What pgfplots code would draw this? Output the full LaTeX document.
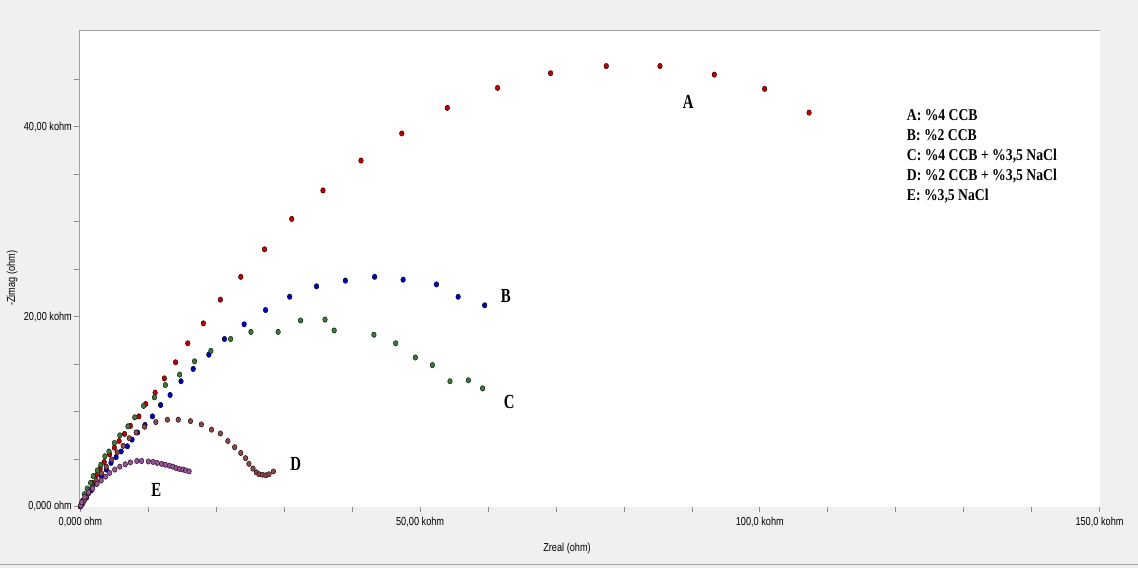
\documentclass[border=0pt]{standalone}
\usepackage{pgfplots}
\pgfplotsset{compat=1.18}
\usepackage{fontspec}
\setmainfont{Liberation Sans}
\newfontfamily\tickfont[FakeStretch=0.8]{Liberation Sans}
\newfontfamily\legfont[FakeStretch=0.83]{Liberation Serif}
\newfontfamily\labfont[FakeStretch=0.74]{Liberation Serif}
\definecolor{bgc}{HTML}{F0F0F0}
\definecolor{linec}{HTML}{A0A0A0}
\definecolor{tickc}{HTML}{8C8C8C}
\definecolor{cA}{HTML}{C00000}
\definecolor{cAd}{HTML}{3A0000}
\definecolor{cB}{HTML}{0000C0}
\definecolor{cBd}{HTML}{000030}
\definecolor{cC}{HTML}{3C7A3C}
\definecolor{cCd}{HTML}{102010}
\definecolor{cD}{HTML}{8C4848}
\definecolor{cDd}{HTML}{2A1010}
\definecolor{cE}{HTML}{935593}
\definecolor{cEd}{HTML}{301030}
\begin{document}
\begin{tikzpicture}[x=1pt,y=1pt]
\fill[bgc] (0,0) rectangle (1138,569);
\draw[linec, line width=1pt] (0,4.5) -- (1138,4.5);
\begin{axis}[
  at={(79pt,62pt)}, anchor=south west,
  scale only axis, width=1021pt, height=476pt,
  xmin=-0.147, xmax=150, ymin=0, ymax=50.1,
  xtick pos=bottom, ytick pos=left,
  xtick={0,50,100,150},
  xticklabels={{0,000 ohm},{50,00 kohm},{100,0 kohm},{150,0 kohm}},
  minor xtick={10,20,30,40,60,70,80,90,110,120,130,140},
  ytick={0,20,40},
  yticklabels={{0,000 ohm},{20,00 kohm},{40,00 kohm}},
  minor ytick={5,10,15,25,30,35,45},
  tick align=outside, major tick length=5pt, minor tick length=5pt,
  tick style={color=tickc, line width=0.7pt},
  axis line style={draw=none},
  axis background/.style={fill=white},
  clip=false,
  xticklabel style={font=\tickfont\fontsize{11.5}{13}\selectfont, yshift=-2.5pt},
  yticklabel style={font=\tickfont\fontsize{11.5}{13}\selectfont, xshift=1pt},
  xlabel={Zreal (ohm)},
  ylabel={-Zimag (ohm)},
  xlabel style={font=\tickfont\fontsize{11.5}{13}\selectfont, at={(axis description cs:0.478,-0.088)}, anchor=center},
  ylabel style={font=\tickfont\fontsize{11.5}{13}\selectfont, at={(axis description cs:-0.066,0.48)}, anchor=center},
  every axis plot/.append style={only marks, mark=*, mark size=2.7pt},
]
\draw[linec, line width=1pt] (rel axis cs:0,0) -- (rel axis cs:0,1) -- (rel axis cs:1,1);
% A
\addplot[mark options={xscale=0.85, fill=cA, draw=cAd, line width=0.5pt}] coordinates {
(0,0) (0.3,0.5) (0.7,1.2) (1.2,1.8) (1.8,2.5) (2.35,3.3) (2.9,4.0) (3.5,4.7) (4.3,5.5) (5.0,6.2) (5.7,6.9) (6.5,7.65) (7.35,8.5) (8.6,9.5) (9.6,10.8) (11.0,12.0) (12.35,13.5) (14.0,15.2) (15.8,17.2) (18.1,19.3) (20.6,21.8) (23.6,24.2) (27.1,27.1) (31.1,30.3) (35.7,33.3) (41.3,36.45) (47.3,39.3) (54.0,42.0) (61.4,44.1) (69.2,45.65) (77.4,46.4) (85.3,46.4) (93.3,45.5) (100.7,44.0) (107.25,41.5)
};
% B
\addplot[mark options={xscale=0.85, fill=cB, draw=cBd, line width=0.5pt}] coordinates {
(0.05,0.05) (0.3,0.3) (0.9,0.95) (1.6,1.7) (2.35,2.4) (3.1,3.2) (3.8,3.9) (4.5,4.6) (5.25,5.2) (6.0,5.8) (6.9,6.35) (7.6,7.05) (8.4,7.8) (9.5,8.6) (10.6,9.5) (11.8,10.7) (13.2,11.75) (14.8,13.2) (16.6,14.5) (18.9,16.0) (21.2,17.65) (24.1,19.2) (27.25,20.7) (30.8,22.1) (34.75,23.2) (39.0,23.8) (43.3,24.2) (47.5,23.9) (52.4,23.4) (55.6,22.1) (59.5,21.2)
};
% C
\addplot[mark options={xscale=0.85, fill=cC, draw=cCd, line width=0.5pt}] coordinates {
(0.05,0.1) (0.3,0.6) (0.6,1.3) (1.0,1.9) (1.5,2.5) (1.9,3.2) (2.5,3.8) (3.0,4.4) (3.6,5.3) (4.2,5.8) (5.0,6.7) (5.8,7.5) (7.0,8.45) (8.0,9.4) (9.3,10.6) (10.9,11.5) (12.5,12.8) (14.6,13.9) (16.8,15.3) (19.2,16.4) (22.1,17.65) (25.1,18.4) (29.1,18.4) (32.4,19.6) (36.0,19.7) (37.35,18.55) (43.2,18.1) (46.4,17.2) (49.3,15.7) (51.8,14.9) (54.4,13.2) (57.1,13.3) (59.2,12.45)
};
% D
\addplot[mark options={xscale=0.85, fill=cD, draw=cDd, line width=0.5pt}] coordinates {
(0.15,0.2) (0.4,0.45) (0.6,0.7) (0.9,1.05) (1.2,1.4) (1.75,2.0) (2.35,2.7) (3.1,3.5) (3.8,4.2) (4.6,4.95) (5.4,5.7) (6.3,6.4) (7.2,7.2) (8.2,7.8) (9.45,8.4) (11.1,8.9) (12.8,9.15) (14.4,9.15) (16.2,9.0) (17.8,8.65) (19.3,8.1) (20.6,7.7) (21.7,6.9) (22.7,6.25) (23.6,5.65) (24.3,5.1) (24.8,4.5) (25.4,4.0) (25.9,3.6) (26.3,3.4) (26.8,3.35) (27.3,3.3) (27.75,3.4) (28.4,3.7)
};
% E
\addplot[mark options={xscale=0.85, fill=cE, draw=cEd, line width=0.5pt}] coordinates {
(0.05,0.1) (0.2,0.45) (0.65,1.0) (1.2,1.5) (1.8,1.9) (2.45,2.4) (3.05,2.75) (3.7,3.15) (4.3,3.55) (5.05,3.9) (5.8,4.2) (6.6,4.45) (7.35,4.65) (8.3,4.8) (9.0,4.8) (10.0,4.75) (10.7,4.7) (11.3,4.6) (11.95,4.5) (12.5,4.4) (13.1,4.3) (13.6,4.2) (14.1,4.05) (14.6,3.95) (15.1,3.9) (15.5,3.8) (16.0,3.7)
};
\node[font=\labfont\bfseries\fontsize{20}{22}\selectfont] at (axis cs:89.46,42.66) {A};
\node[font=\labfont\bfseries\fontsize{20}{22}\selectfont] at (axis cs:62.6,22.2) {B};
\node[font=\labfont\bfseries\fontsize{20}{22}\selectfont] at (axis cs:63.1,10.98) {C};
\node[font=\labfont\bfseries\fontsize{20}{22}\selectfont] at (axis cs:31.7,4.49) {D};
\node[font=\labfont\bfseries\fontsize{20}{22}\selectfont] at (axis cs:11.18,1.72) {E};
\end{axis}
\begin{scope}[every node/.style={anchor=base west, inner sep=0pt, font=\legfont\bfseries\fontsize{16.5}{18}\selectfont}]
\node at (907,448) {A: \%4 CCB};
\node at (907,428) {B: \%2 CCB};
\node at (907,408) {C: \%4 CCB + \%3,5 NaCl};
\node at (907,388) {D: \%2 CCB + \%3,5 NaCl};
\node at (907,368) {E: \%3,5 NaCl};
\end{scope}
\end{tikzpicture}
\end{document}
